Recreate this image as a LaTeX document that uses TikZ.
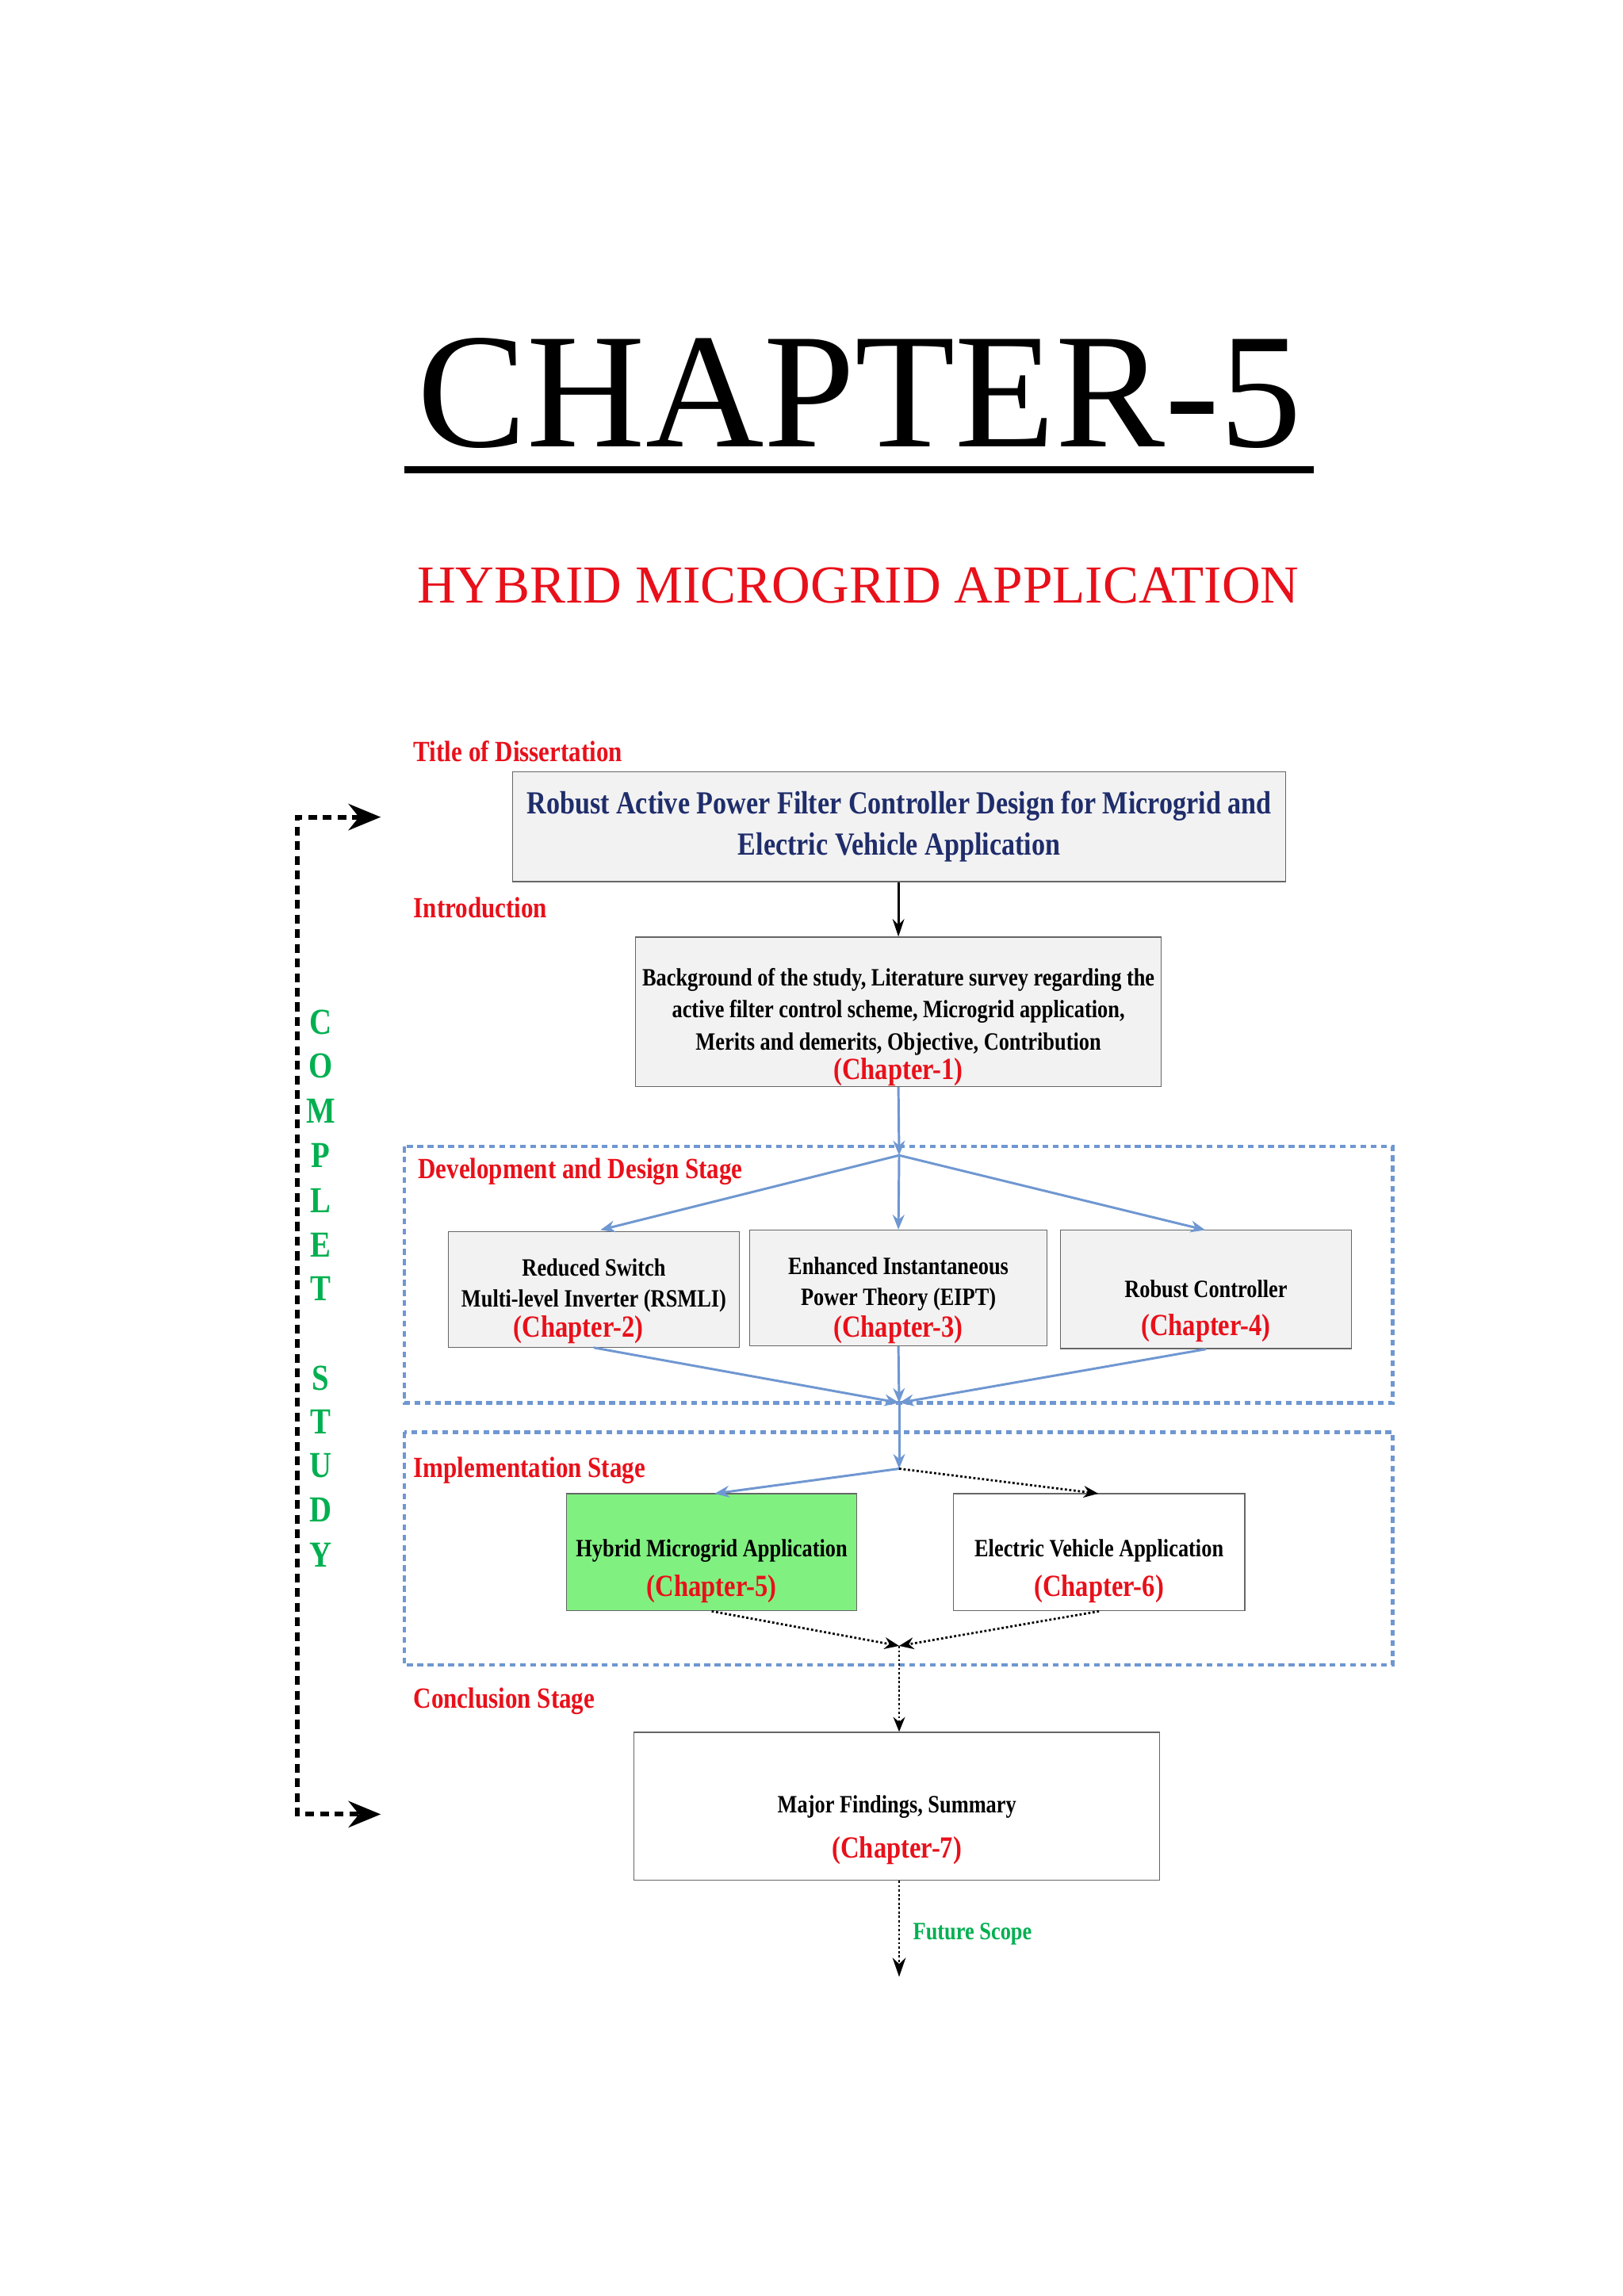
\documentclass[tikz,border=0pt]{standalone}
\usepackage{fontspec}
\setmainfont{Liberation Serif}
\newfontfamily\cond{Liberation Serif}[FakeStretch=0.84]
\usetikzlibrary{arrows.meta}
\definecolor{myblue}{HTML}{6F97D1}
\definecolor{myred}{HTML}{E8101A}
\definecolor{mygreen}{HTML}{00B050}
\definecolor{navy}{HTML}{1F2D6B}
\definecolor{boxgray}{HTML}{F2F2F2}
\begin{document}
\begin{tikzpicture}[x=1pt,y=-1pt,
  box/.style={draw=gray!80!black,line width=0.7pt,inner sep=0pt},
  lbl/.style={anchor=west,text=myred,font=\cond\bfseries\fontsize{20}{20}\selectfont},
  btxt/.style={align=center,font=\cond\bfseries\fontsize{17}{22}\selectfont},
  ch/.style={text=myred,font=\cond\bfseries\fontsize{21}{22}\selectfont},
  barrow/.style={myblue,line width=1.6pt,-{Stealth[length=10pt,width=8pt]}},
  dotarrow/.style={black,line width=1.5pt,dash pattern=on 1.5pt off 1.5pt,-{Stealth[length=10pt,width=8pt]}},
  stage/.style={myblue,line width=2.4pt,dash pattern=on 4pt off 3pt},
  vl/.style={text=mygreen,font=\cond\bfseries\fontsize{25}{25}\selectfont}]
\useasboundingbox (0,0) rectangle (1108,1568);
\fill[white] (0,0) rectangle (1108,1568);
% title
\node[font=\fontsize{112}{112}\selectfont,anchor=base] (t) at (587,305) {CHAPTER-5};
\draw[line width=5pt] (276,321) -- (897,321);
\node[text=myred,font=\fontsize{36.5}{37}\selectfont] (sub) at (586,400) {HYBRID MICROGRID APPLICATION};
% labels
\node[lbl] (l1) at (279,513) {Title of Dissertation};
\node[lbl] (l2) at (279,620) {Introduction};
\node[lbl] (l3) at (282,800) {Development and Design Stage};
\node[lbl] (l4) at (279,1004) {Implementation Stage};
\node[lbl] (l5) at (279,1162) {Conclusion Stage};
% stage boxes
\draw[stage] (276,783) rectangle (951,958);
\draw[stage] (276,978) rectangle (951,1137);
% boxes
\node[box,fill=boxgray,minimum width=528pt,minimum height=75pt] (b1) at (614,564.5) {};
\node[text=navy,align=center,font=\cond\bfseries\fontsize{22}{28}\selectfont] at (614,564.5) {Robust Active Power Filter Controller Design for Microgrid and\\Electric Vehicle Application};
\node[box,fill=boxgray,minimum width=359pt,minimum height=102pt] (b2) at (613.5,691) {};
\node[btxt] at (613.5,691) {Background of the study, Literature survey regarding the\\active filter control scheme, Microgrid application,\\Merits and demerits, Objective, Contribution};
\node[ch] at (613.5,732) {(Chapter-1)};
\node[box,fill=boxgray,minimum width=199pt,minimum height=79pt] (b3) at (405.5,880.5) {};
\node[btxt,font=\cond\bfseries\fontsize{17}{21}\selectfont] at (405.5,878) {Reduced Switch\\Multi-level Inverter (RSMLI)};
\node[ch] at (395,908) {(Chapter-2)};
\node[box,fill=boxgray,minimum width=203pt,minimum height=79pt] (b4) at (613.5,879.5) {};
\node[btxt,font=\cond\bfseries\fontsize{17}{21}\selectfont] at (613.5,877) {Enhanced Instantaneous\\Power Theory (EIPT)};
\node[ch] at (613.5,908) {(Chapter-3)};
\node[box,fill=boxgray,minimum width=199pt,minimum height=81pt] (b5) at (823.5,880.5) {};
\node[btxt] at (823.5,880) {Robust Controller};
\node[ch] at (823.5,907) {(Chapter-4)};
\node[box,fill={rgb,255:red,128;green,240;blue,128},minimum width=198pt,minimum height=80pt] (b6) at (486,1060) {};
\node[btxt] at (486,1059) {Hybrid Microgrid Application};
\node[ch] at (486,1085) {(Chapter-5)};
\node[box,fill=white,minimum width=199pt,minimum height=80pt] (b7) at (750.5,1060) {};
\node[btxt] at (750.5,1059) {Electric Vehicle Application};
\node[ch] at (750.5,1085) {(Chapter-6)};
\node[box,fill=white,minimum width=359pt,minimum height=101pt] (b8) at (612.5,1233.5) {};
\node[btxt] at (612.5,1234) {Major Findings, Summary};
\node[ch] at (612.5,1264) {(Chapter-7)};
% coordinates
\coordinate (h1) at (614,789);
\coordinate (h2) at (614,958);
\coordinate (h3) at (614,1003);
\coordinate (h4) at (614,1124);
\coordinate (fs) at (614,1350);
\coordinate (t3) at (410,840);
\coordinate (t5) at (823,840);
\coordinate (t6) at (488,1020);
\coordinate (t7) at (750,1020);
% connectors
\draw[black,line width=1.6pt,-{Stealth[length=12pt,width=8pt]}] (b1.south -| b2.north) -- (b2.north);
\draw[barrow] (b2.south) -- (h1);
\draw[barrow] (h1) -- (t3);
\draw[barrow] (h1) -- (b4.north);
\draw[barrow] (h1) -- (t5);
\draw[barrow] (b3.south) -- (h2);
\draw[barrow] (b4.south) -- (h2);
\draw[barrow] (b5.south) -- (h2);
\draw[barrow] (h2) -- (h3);
\draw[barrow] (h3) -- (t6);
\draw[dotarrow] (h3) -- (t7);
\draw[dotarrow] (b6.south) -- (h4);
\draw[dotarrow] (b7.south) -- (h4);
\draw[dotarrow] (h4) -- (b8.north -| h4);
\draw[dotarrow,-{Stealth[length=13pt,width=9pt]}] (b8.south -| fs) -- (fs);
\node[anchor=west,text=mygreen,font=\cond\bfseries\fontsize{17}{17}\selectfont] (fsl) at (620,1321) {Future Scope};
% left bracket
\coordinate (la) at (260,558);
\coordinate (lb) at (260,1239);
\draw[black,line width=3.2pt,dash pattern=on 6pt off 4pt,{Stealth[length=22pt,width=18pt]}-{Stealth[length=22pt,width=18pt]}] (la) -- (203,558) -- (203,1239) -- (lb);
% vertical text
\foreach \c/\y in {C/698,O/728,M/759,P/789,L/820,E/850,T/880,S/941,T/971,U/1001,D/1031,Y/1062}
  \node[vl] at (219,\y) {\c};
\end{tikzpicture}
\end{document}
